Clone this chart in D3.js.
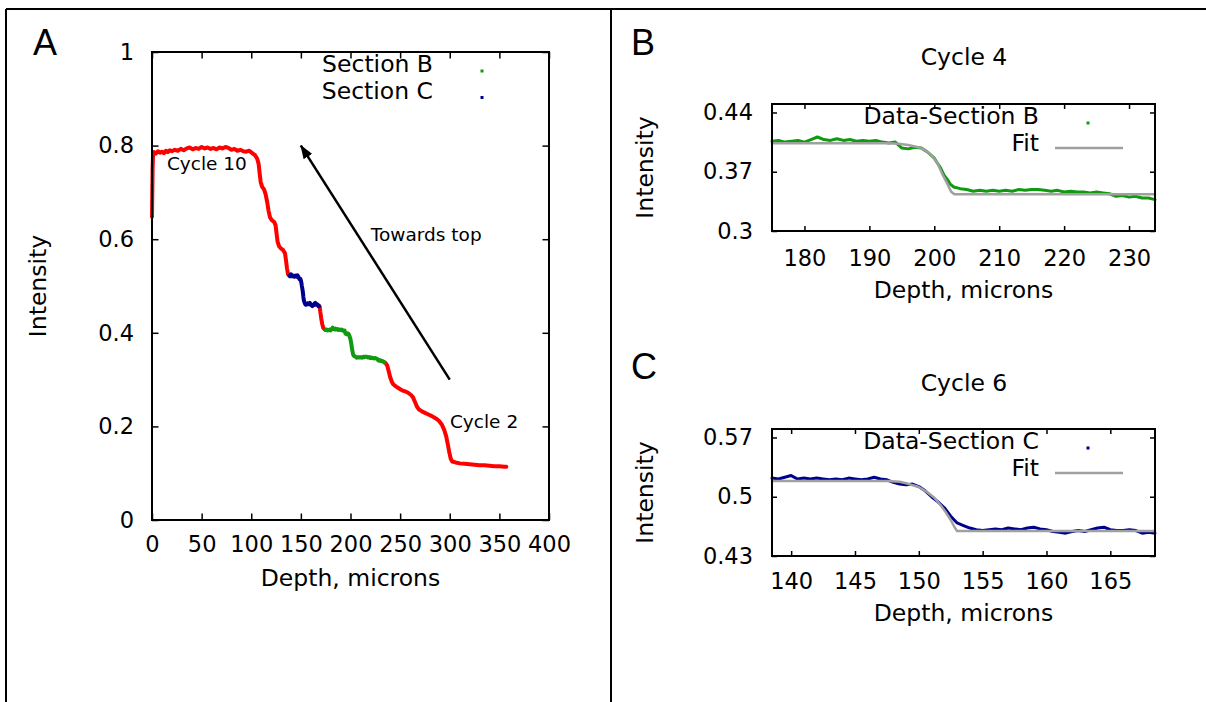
<!DOCTYPE html>
<html>
<head>
<meta charset="utf-8">
<script src="https://cdn.jsdelivr.net/npm/d3@7/dist/d3.min.js"></script>
<style>
  body { margin: 0; background: #fff; }
  text { font-family: 'DejaVu Sans', sans-serif; fill: #000; }
</style>
</head>
<body>
<svg id="chart" width="1206" height="702"></svg>
<script>
// ---------- data (depth in microns, intensity) ----------

// full profile, red parts (outside the two zoomed sections)
const profileTop = [
	[0, 0.648], [0.3, 0.70], [0.6, 0.75], [1, 0.778], [2, 0.786], [4, 0.783], [6, 0.788],
	[8, 0.785], [10, 0.787], [12, 0.784], [14, 0.789], [16, 0.786], [18, 0.790], [20, 0.788],
	[23, 0.791], [26, 0.789], [29, 0.793], [32, 0.790], [35, 0.794], [38, 0.796], [41, 0.792],
	[44, 0.795], [47, 0.793], [50, 0.797], [53, 0.794], [56, 0.796], [59, 0.793], [62, 0.795],
	[65, 0.792], [68, 0.796], [71, 0.794], [74, 0.797], [77, 0.795], [80, 0.791], [83, 0.793],
	[86, 0.789], [89, 0.791], [92, 0.788], [95, 0.787], [98, 0.789], [101, 0.784], [104, 0.779],
	[106, 0.772], [107.5, 0.760], [108.5, 0.740], [109.5, 0.722], [111, 0.712], [113, 0.706],
	[114.5, 0.696], [116, 0.680], [117.5, 0.660], [119, 0.646], [121, 0.640], [123, 0.637],
	[124.5, 0.630], [125.5, 0.612], [126.5, 0.595], [128, 0.585], [130, 0.580], [132, 0.577],
	[134, 0.570], [135, 0.555], [136, 0.538], [137, 0.525], [138.5, 0.522]
];
const profileMid = [
	[168.5, 0.457], [169, 0.455], [169.5, 0.446], [170.5, 0.431], [171.5, 0.419],
	[172.5, 0.411], [174, 0.407], [175, 0.406]
];
const profileBottom = [
	[234, 0.337], [235.5, 0.335], [237, 0.330], [238.5, 0.318], [240, 0.305], [241.5, 0.296],
	[243, 0.290], [246, 0.285], [249, 0.281], [252, 0.277], [255, 0.275], [258, 0.272],
	[261, 0.267], [263, 0.262], [265, 0.252], [267, 0.242], [269, 0.236], [272, 0.232],
	[275, 0.229], [278, 0.226], [282, 0.222], [286, 0.217], [289, 0.212], [292, 0.204],
	[294.5, 0.192], [296.5, 0.178], [298, 0.162], [299.5, 0.145], [301, 0.131], [302.5, 0.125],
	[306, 0.123], [310, 0.121], [315, 0.120], [320, 0.119], [325, 0.118], [330, 0.117],
	[335, 0.117], [340, 0.116], [345, 0.115], [350, 0.115], [355, 0.114], [357, 0.114]
];

// section B (cycle 4)
const sectionB = [
	[175, 0.406], [176, 0.407], [177, 0.405], [178, 0.406], [179, 0.407], [180, 0.405],
	[181, 0.408], [182, 0.411], [183, 0.408], [184, 0.407], [185, 0.409], [186, 0.407],
	[187, 0.408], [188, 0.406], [189, 0.407], [190, 0.406], [191, 0.407], [192, 0.405],
	[193, 0.404], [194, 0.405], [195, 0.398], [196, 0.397], [197, 0.399], [198, 0.398],
	[199, 0.393], [200, 0.386], [200.5, 0.380], [201, 0.374], [201.5, 0.366], [202, 0.361],
	[202.5, 0.355], [203, 0.352], [204, 0.350], [205, 0.349], [206, 0.347], [207, 0.348],
	[208, 0.347], [209, 0.348], [210, 0.347], [211, 0.348], [212, 0.347], [213, 0.349],
	[214, 0.348], [215, 0.349], [216, 0.349], [217, 0.348], [218, 0.347], [219, 0.348],
	[220, 0.346], [221, 0.347], [222, 0.346], [223, 0.346], [224, 0.345], [225, 0.346],
	[226, 0.345], [227, 0.344], [228, 0.341], [229, 0.342], [230, 0.340], [231, 0.341],
	[232, 0.339], [233, 0.339], [234, 0.337]
];
const fitB = [
	[175, 0.4035], [193, 0.4035], [194.5, 0.4030], [196, 0.4015], [197.5, 0.3990],
	[198.5, 0.3960], [199.5, 0.3900], [200.5, 0.3800], [201.3, 0.3661], [202, 0.3560],
	[202.6, 0.3464], [203.1, 0.3433], [234, 0.3433]
];

// section C (cycle 6)
const sectionC = [
	[138.5, 0.522], [139, 0.521], [139.5, 0.523], [140, 0.525], [140.5, 0.521], [141, 0.522],
	[141.5, 0.521], [142, 0.522], [142.5, 0.521], [143, 0.520], [143.5, 0.521], [144, 0.520],
	[144.5, 0.522], [145, 0.521], [145.5, 0.520], [146, 0.521], [146.5, 0.523], [147, 0.521],
	[147.5, 0.520], [148, 0.517], [148.5, 0.515], [149, 0.514], [149.5, 0.515], [150, 0.512],
	[150.5, 0.507], [151, 0.500], [151.5, 0.494], [152, 0.487], [152.5, 0.477], [153, 0.469],
	[153.5, 0.466], [154, 0.463], [154.5, 0.461], [155, 0.460], [155.5, 0.461], [156, 0.462],
	[156.5, 0.461], [157, 0.463], [157.5, 0.462], [158, 0.461], [158.5, 0.463], [159, 0.464],
	[159.5, 0.462], [160, 0.461], [160.5, 0.459], [161, 0.458], [161.5, 0.457], [162, 0.459],
	[162.5, 0.460], [163, 0.459], [163.5, 0.461], [164, 0.463], [164.5, 0.464], [165, 0.461],
	[165.5, 0.460], [166, 0.460], [166.5, 0.461], [167, 0.460], [167.5, 0.457], [168, 0.458],
	[168.5, 0.457]
];
const fitC = [
	[138.5, 0.5186], [147.5, 0.5186], [148.5, 0.5178], [149, 0.5160], [150, 0.5115],
	[150.6, 0.5060], [151.2, 0.4990], [151.7, 0.4902], [152.1, 0.4820], [152.5, 0.4725],
	[152.8, 0.4640], [153.0, 0.4595], [168.5, 0.4595]
];

// tick values
const depthTicksA = [0, 50, 100, 150, 200, 250, 300, 350, 400];
const intensityTicksA = [0, 0.2, 0.4, 0.6, 0.8, 1];
const depthTicksB = [180, 190, 200, 210, 220, 230];
const intensityTicksB = [0.3, 0.37, 0.44];
const depthTicksC = [140, 145, 150, 155, 160, 165];
const intensityTicksC = [0.43, 0.5, 0.57];

// annotations on panel A (data coordinates)
const labelsA = [
	{ text: 'Cycle 10', at: [15, 0.763] },
	{ text: 'Towards top', at: [220.5, 0.611] },
	{ text: 'Cycle 2', at: [300.2, 0.2115] }
];
const arrowA = { from: [300, 0.3], to: [150, 0.8] };

// ---------- style ----------
const colors = {
	profile: '#ff0000',
	sectionB: '#109a10',
	sectionC: '#00008e',
	fit: '#a0a0a0',
	ink: '#000'
};
const fonts = { tick: 22.5, label: 23.5, note: 18.5, letter: 36 };

const svg = d3.select('#chart');
svg.append('rect').attr('width', 1206).attr('height', 702).attr('fill', '#fff');

svg.append('defs').append('marker')
	.attr('id', 'head')
	.attr('viewBox', '0 0 14 10')
	.attr('refX', 13).attr('refY', 5)
	.attr('markerWidth', 14).attr('markerHeight', 10)
	.attr('markerUnits', 'userSpaceOnUse')
	.attr('orient', 'auto')
	.append('path').attr('d', 'M0,0 L14,5 L0,10 Z').attr('fill', colors.ink);

// outer figure frame
const frame = svg.append('g').attr('stroke', colors.ink).attr('stroke-width', 2);
frame.append('line').attr('x1', 6).attr('x2', 1206).attr('y1', 9).attr('y2', 9);
frame.append('line').attr('x1', 6).attr('x2', 6).attr('y1', 9).attr('y2', 702);
frame.append('line').attr('x1', 611).attr('x2', 611).attr('y1', 9).attr('y2', 702);

// ---------- helpers ----------
const fmt = (d) => String(+d.toFixed(2));

function makePanel(opt) {
	const b = opt.box;
	const x = d3.scaleLinear().domain(opt.xDomain).range([b.left, b.right]);
	const y = d3.scaleLinear().domain(opt.yDomain).range([b.bottom, b.top]);
	const g = svg.append('g');

	const styleAxis = (sel) => {
		sel.select('.domain').remove();
		sel.selectAll('.tick line').attr('stroke', colors.ink).attr('stroke-width', 1.5);
		sel.selectAll('text').style('font-size', `${fonts.tick}px`).attr('fill', colors.ink);
	};

	g.append('g').attr('transform', `translate(0,${b.bottom})`)
		.call(d3.axisBottom(x).tickValues(opt.xTicks).tickSizeInner(-opt.tick)
			.tickSizeOuter(0).tickPadding(opt.xPad).tickFormat(fmt))
		.call(styleAxis);
	g.append('g').attr('transform', `translate(0,${b.top})`)
		.call(d3.axisTop(x).tickValues(opt.xTicks).tickSizeInner(-opt.tick)
			.tickSizeOuter(0).tickFormat(''))
		.call(styleAxis);
	g.append('g').attr('transform', `translate(${b.left},0)`)
		.call(d3.axisLeft(y).tickValues(opt.yTicks).tickSizeInner(-opt.tick)
			.tickSizeOuter(0).tickPadding(opt.yPad).tickFormat(fmt))
		.call(styleAxis);
	g.append('g').attr('transform', `translate(${b.right},0)`)
		.call(d3.axisRight(y).tickValues(opt.yTicks).tickSizeInner(-opt.tick)
			.tickSizeOuter(0).tickFormat(''))
		.call(styleAxis);

	// axis titles
	g.append('text')
		.attr('x', (b.left + b.right) / 2).attr('y', opt.xTitleY)
		.attr('dy', '0.36em').attr('text-anchor', 'middle')
		.style('font-size', `${fonts.label}px`)
		.text('Depth, microns');
	g.append('text')
		.attr('transform', `translate(${opt.yTitleX},${(b.top + b.bottom) / 2}) rotate(-90)`)
		.attr('dy', '0.36em').attr('text-anchor', 'middle')
		.style('font-size', `${fonts.label}px`)
		.text('Intensity');

	// panel letter
	g.append('text')
		.attr('x', opt.letterAt[0]).attr('y', opt.letterAt[1])
		.style('font-family', "'Liberation Sans', Arial, sans-serif")
		.style('font-size', `${fonts.letter}px`)
		.text(opt.letter);

	if (opt.title) {
		g.append('text')
			.attr('x', opt.title.x).attr('y', opt.title.y)
			.attr('dy', '0.36em').attr('text-anchor', 'middle')
			.style('font-size', `${fonts.label}px`)
			.text(opt.title.text);
	}

	const plot = g.append('g');
	const frameRect = g.append('rect')
		.attr('x', b.left).attr('y', b.top)
		.attr('width', b.right - b.left).attr('height', b.bottom - b.top)
		.attr('fill', 'none').attr('stroke', colors.ink).attr('stroke-width', 2);

	const line = d3.line().x((d) => x(d[0])).y((d) => y(d[1]));
	const series = (data, color, width) =>
		plot.append('path').datum(data)
			.attr('fill', 'none').attr('stroke', color)
			.attr('stroke-width', width)
			.attr('stroke-linejoin', 'round').attr('stroke-linecap', 'round')
			.attr('d', line);

	return { g, x, y, b, plot, series };
}

function legendRow(p, row, label, kind, color) {
	const cy = p.b.top + 12 + row * 26.5;
	p.g.append('text')
		.attr('x', p.b.right - 116).attr('y', cy)
		.attr('dy', '0.36em').attr('text-anchor', 'end')
		.style('font-size', `${fonts.label}px`)
		.text(label);
	if (kind === 'dot') {
		p.g.append('rect')
			.attr('x', p.b.right - 68.5).attr('y', cy + 5.5)
			.attr('width', 3).attr('height', 3).attr('fill', color);
	} else {
		p.g.append('line')
			.attr('x1', p.b.right - 100).attr('x2', p.b.right - 32)
			.attr('y1', cy + 5.5).attr('y2', cy + 5.5)
			.attr('stroke', color).attr('stroke-width', 2.5);
	}
}

// ---------- panel A ----------
const pA = makePanel({
	box: { left: 152, right: 549, top: 52, bottom: 520 },
	xDomain: [0, 400], yDomain: [0, 1],
	xTicks: depthTicksA, yTicks: intensityTicksA,
	tick: 6.5, xPad: 16, yPad: 18,
	xTitleY: 578, yTitleX: 38,
	letter: 'A', letterAt: [33, 55]
});
pA.series(profileTop, colors.profile, 4);
pA.series(profileMid, colors.profile, 4);
pA.series(profileBottom, colors.profile, 4);
pA.series(sectionC, colors.sectionC, 4);
pA.series(sectionB, colors.sectionB, 4);

labelsA.forEach((l) => {
	pA.g.append('text')
		.attr('x', pA.x(l.at[0])).attr('y', pA.y(l.at[1]))
		.attr('dy', '0.36em')
		.style('font-size', `${fonts.note}px`)
		.text(l.text);
});
pA.g.append('line')
	.attr('x1', pA.x(arrowA.from[0])).attr('y1', pA.y(arrowA.from[1]))
	.attr('x2', pA.x(arrowA.to[0])).attr('y2', pA.y(arrowA.to[1]))
	.attr('stroke', colors.ink).attr('stroke-width', 2.5)
	.attr('marker-end', 'url(#head)');

legendRow(pA, 0, 'Section B', 'dot', colors.sectionB);
legendRow(pA, 1, 'Section C', 'dot', colors.sectionC);

// ---------- panel B ----------
const pB = makePanel({
	box: { left: 772, right: 1155, top: 104, bottom: 231 },
	xDomain: [175, 234], yDomain: [0.3, 0.45],
	xTicks: depthTicksB, yTicks: intensityTicksB,
	tick: 5, xPad: 19, yPad: 19,
	xTitleY: 290, yTitleX: 645,
	letter: 'B', letterAt: [631, 55],
	title: { text: 'Cycle 4', x: 964, y: 57 }
});
pB.series(sectionB, colors.sectionB, 3);
pB.series(fitB, colors.fit, 2.5);
legendRow(pB, 0, 'Data-Section B', 'dot', colors.sectionB);
legendRow(pB, 1, 'Fit', 'line', colors.fit);

// ---------- panel C ----------
const pC = makePanel({
	box: { left: 772, right: 1155, top: 429, bottom: 556 },
	xDomain: [138.5, 168.5], yDomain: [0.43, 0.58],
	xTicks: depthTicksC, yTicks: intensityTicksC,
	tick: 5, xPad: 17.5, yPad: 19,
	xTitleY: 613, yTitleX: 645,
	letter: 'C', letterAt: [631, 379],
	title: { text: 'Cycle 6', x: 964, y: 383 }
});
pC.series(sectionC, colors.sectionC, 3);
pC.series(fitC, colors.fit, 2.5);
legendRow(pC, 0, 'Data-Section C', 'dot', colors.sectionC);
legendRow(pC, 1, 'Fit', 'line', colors.fit);
</script>
</body>
</html>
